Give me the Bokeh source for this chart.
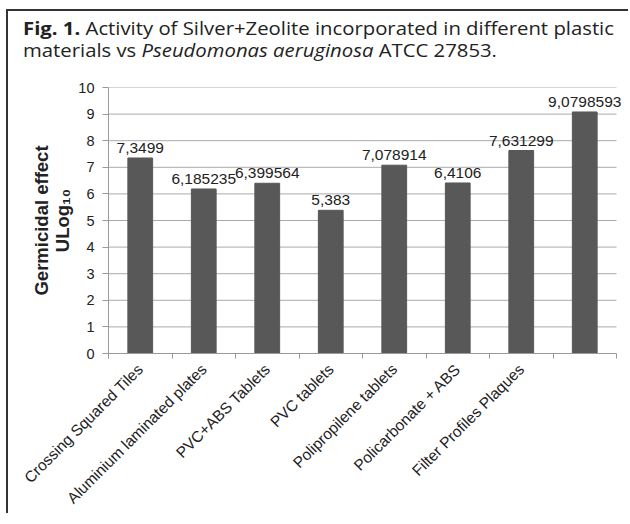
import math
from bokeh.plotting import figure
from bokeh.layouts import column
from bokeh.models import ColumnDataSource, FixedTicker, Range1d, Div
from bokeh.core.properties import value
from bokeh.embed import file_html
from bokeh.resources import INLINE

categories = ["Crossing Squared Tiles", "Aluminium laminated plates", "PVC+ABS Tablets",
              "PVC tablets", "Polipropilene tablets", "Policarbonate + ABS",
              "Filter Profiles Plaques", ""]
values = [7.3499, 6.185235, 6.399564, 5.383, 7.078914, 6.4106, 7.631299, 9.0798593]
value_labels = ["7,3499", "6,185235", "6,399564", "5,383", "7,078914", "6,4106", "7,631299", "9,0798593"]
y_ticks = [0, 1, 2, 3, 4, 5, 6, 7, 8, 9, 10]

n = len(categories)
xs = [i + 0.5 for i in range(n)]
src = ColumnDataSource(dict(x=xs, top=values, lab=value_labels))

# frame is 515px wide; categories occupy the first 508px, the rest leaves room for the last label
x_end = n * 515 / 508
p = figure(width=622, height=452, output_backend="svg", toolbar_location=None,
           x_range=Range1d(0, x_end), y_range=Range1d(0, 10),
           min_border_left=100, min_border_right=7, min_border_top=24, min_border_bottom=159)
p.outline_line_color = None
p.background_fill_color = "white"

grid_src = ColumnDataSource(dict(x0=[0] * len(y_ticks[1:]), x1=[n] * len(y_ticks[1:]),
                                 y=y_ticks[1:]))
p.segment(x0="x0", x1="x1", y0="y", y1="y", source=grid_src, line_color="#aaaaaa", line_width=1)

p.vbar(x="x", top="top", width=0.39, source=src, fill_color="#585858", line_color="#585858")
p.text(x="x", y="top", text="lab", source=src, text_align="center", text_baseline="alphabetic",
       y_offset=-10, text_font_size="15.5px", text_color="#222222", text_font=value("Liberation Sans"))

p.xaxis.ticker = FixedTicker(ticks=xs, minor_ticks=list(range(n + 1)))
p.xaxis.bounds = (0, n)
p.xaxis.major_label_overrides = {x: c for x, c in zip(xs, categories)}
p.xaxis.major_label_orientation = math.pi / 4
p.xaxis.major_tick_out = 0
p.xaxis.major_tick_in = 0
p.xaxis.minor_tick_out = 5
p.xaxis.minor_tick_in = 0
p.xaxis.minor_tick_line_color = "#999999"
p.xaxis.axis_line_color = "#999999"
p.xaxis.major_label_text_font = "Liberation Sans"
p.xaxis.major_label_text_font_size = "15.5px"
p.xaxis.major_label_text_color = "#222222"
p.xaxis.major_label_standoff = 8

p.yaxis.ticker = FixedTicker(ticks=y_ticks)
p.yaxis.minor_tick_line_color = None
p.yaxis.major_tick_out = 6
p.yaxis.major_tick_in = 0
p.yaxis.major_tick_line_color = "#999999"
p.yaxis.axis_line_color = "#999999"
p.yaxis.major_label_text_font = "Liberation Sans"
p.yaxis.major_label_text_font_size = "14.5px"
p.yaxis.major_label_text_color = "#222222"
p.yaxis.major_label_standoff = 8
p.yaxis.axis_label = "Germicidal effect\nULog₁₀"
p.yaxis.axis_label_text_font = "Liberation Sans"
p.yaxis.axis_label_text_font_style = "bold"
p.yaxis.axis_label_text_font_size = "18.5px"
p.yaxis.axis_label_text_line_height = 1.0
p.yaxis.axis_label_text_color = "#222222"
p.yaxis.axis_label_standoff = 2

p.xgrid.grid_line_color = None
p.ygrid.grid_line_color = None

title_html = (
    '<div style="display:inline-block; margin:6px 0 0 15px; font-family:\'Open Sans\'; '
    'font-size:17.5px; line-height:22px; color:#222; white-space:nowrap; '
    'transform:scaleX(1.16); transform-origin:0 0;">'
    '<b>Fig. 1.</b> Activity of Silver+Zeolite incorporated in different plastic<br>'
    'materials vs <i>Pseudomonas aeruginosa</i> ATCC 27853.</div>'
)
title = Div(text=title_html, width=622, height=52, margin=0)

layout = column(title, p, spacing=0,
                styles={"margin-left": "8px", "margin-top": "11px",
                        "box-shadow": "-2px -2px 0 0 #333"})

open("out.html", "w").write(file_html(layout, INLINE))
